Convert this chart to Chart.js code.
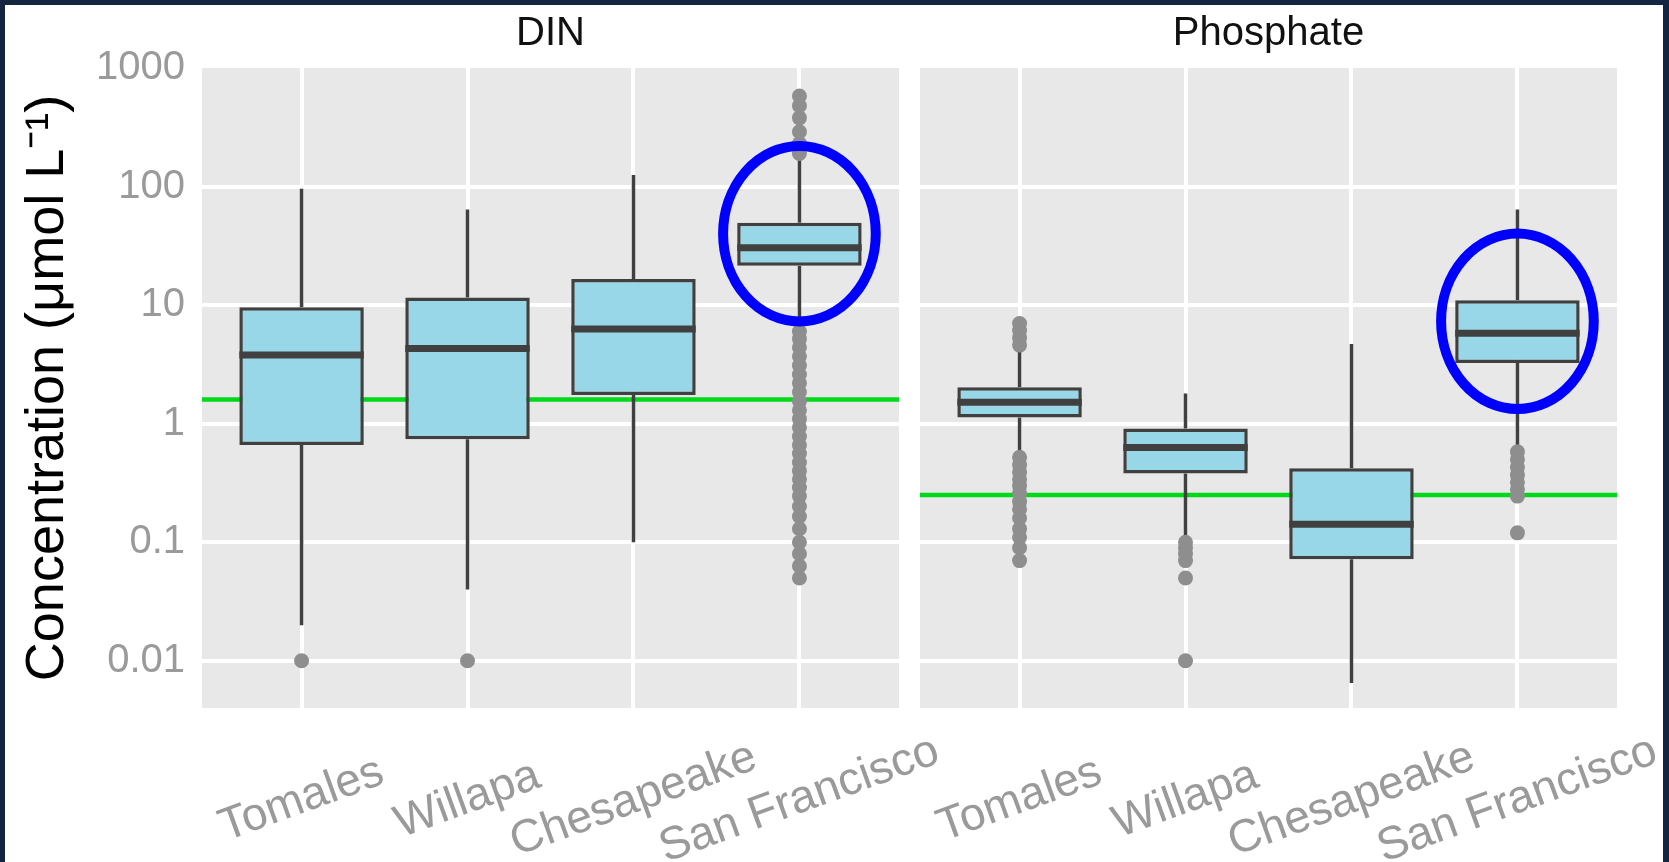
<!DOCTYPE html>
<html lang="en">

<head>
    <meta charset="UTF-8">
    <title>DIN and Phosphate</title>
    <script src="https://cdn.jsdelivr.net/npm/chart.js"></script>
    <style>
        html, body {
            margin: 0;
            padding: 0;
            background: #ffffff;
            width: 1669px;
            height: 862px;
            overflow: hidden;
        }

        .painel {
            position: absolute;
            top: 0;
            height: 862px;
        }

        .moldura {
            position: absolute;
            left: 0;
            top: 0;
            width: 1669px;
            height: 862px;
            box-sizing: border-box;
            border-top: 5px solid #132540;
            border-left: 5px solid #132540;
            border-right: 6px solid #132540;
            pointer-events: none;
        }
    </style>
</head>

<body>
    <div class="painel" style="left: 0px; width: 1000px;">
        <canvas id="chartDIN"></canvas>
    </div>
    <div class="painel" style="left: 905px; width: 764px;">
        <canvas id="chartPhosphate"></canvas>
    </div>
    <div class="moldura"></div>
</body>

</html>

<script>
    // categories (same for both facets)
    const sites = ['Tomales', 'Willapa', 'Chesapeake', 'San Francisco'];
    const yTicks = [0.01, 0.1, 1, 10, 100, 1000];

    // DIN boxplot stats
    const dinLow = [0.02, 0.04, 0.1, 6.1];
    const dinQ1 = [0.66, 0.74, 1.75, 21.5];
    const dinMedian = [3.8, 4.3, 6.3, 30.5];
    const dinQ3 = [9.6, 11.6, 16.6, 49.5];
    const dinHigh = [96, 64, 125, 179];
    const dinOutliers = [
        [0.01],
        [0.01],
        [],
        [190, 230, 290, 380, 480, 580,
            6, 5.2, 4.4, 3.7, 3.1, 2.6, 2.2, 1.85, 1.55, 1.3, 1.1, 0.93, 0.78, 0.66, 0.56,
            0.47, 0.4, 0.34, 0.29, 0.245, 0.2, 0.165, 0.13, 0.1, 0.08, 0.063, 0.05]
    ];
    const dinThreshold = 1.6;
    const dinHighlight = [3, 40];

    // Phosphate boxplot stats
    const phosLow = [0.56, 0.11, 0.0065, 0.65];
    const phosQ1 = [1.13, 0.38, 0.072, 3.25];
    const phosMedian = [1.52, 0.63, 0.142, 5.8];
    const phosQ3 = [2.03, 0.91, 0.42, 11];
    const phosHigh = [4.3, 1.8, 4.7, 64];
    const phosOutliers = [
        [4.6, 5.3, 6.1, 7.0,
            0.52, 0.45, 0.39, 0.34, 0.3, 0.26, 0.22, 0.19, 0.16, 0.13, 0.11, 0.09, 0.07],
        [0.1, 0.09, 0.08, 0.07, 0.05, 0.01],
        [],
        [0.58, 0.5, 0.43, 0.37, 0.32, 0.28, 0.245, 0.12]
    ];
    const phosThreshold = 0.25;
    const phosHighlight = [3, 7.3];

    const corCaixa = '#98d7e8';
    const corLinha = '#404040';
    const corPonto = '#8e8e8e';
    const corVerde = '#00d81c';
    const corTexto = '#9a9a9a';
    const fonte = '"Liberation Sans", Arial, sans-serif';

    // panel background, facet strip, rotated site labels and the blue ring
    const decoracao = {
        id: 'decoracao',
        beforeDraw(chart) {
            const { ctx, chartArea } = chart;
            ctx.save();
            ctx.fillStyle = '#e8e8e8';
            ctx.fillRect(chartArea.left, chartArea.top, chartArea.right - chartArea.left, chartArea.bottom - chartArea.top);
            ctx.restore();
        },
        afterDatasetsDraw(chart, args, opts) {
            const { ctx } = chart;
            const x = chart.scales.x;
            const y = chart.scales.y;
            const cx = x.getPixelForValue(opts.highlight[0]);
            const cy = y.getPixelForValue(opts.highlight[1]);
            const rx = x.getPixelForValue(opts.highlight[0] + 0.46) - cx;
            const ry = cy - y.getPixelForValue(opts.highlight[1] * Math.pow(10, 0.74));
            ctx.save();
            ctx.strokeStyle = '#0000ff';
            ctx.lineWidth = 10;
            ctx.beginPath();
            ctx.ellipse(cx, cy, rx, ry, 0, 0, Math.PI * 2);
            ctx.stroke();
            ctx.restore();
        },
        afterDraw(chart, args, opts) {
            const { ctx, chartArea } = chart;
            const x = chart.scales.x;
            ctx.save();
            // facet title
            ctx.fillStyle = '#111111';
            ctx.font = '40px ' + fonte;
            ctx.textAlign = 'center';
            ctx.textBaseline = 'middle';
            ctx.fillText(opts.titulo, (chartArea.left + chartArea.right) / 2, 34);

            // site names, tilted
            ctx.fillStyle = corTexto;
            ctx.font = '46px ' + fonte;
            sites.forEach(function (nome, i) {
                ctx.save();
                ctx.translate(x.getPixelForValue(i), chartArea.bottom + 92);
                ctx.rotate(-20 * Math.PI / 180);
                ctx.fillText(nome, 0, 0);
                ctx.restore();
            });
            ctx.restore();
        }
    };

    function criarGrafico(idCanvas, titulo, low, q1, median, q3, high, outliers, limiar, destaque, eixoY) {
        // whiskers: two segments per site, split with nulls
        let bigodes = [];
        let medianas = [];
        let caixas = [];
        let pontos = [];
        for (let i = 0; i < sites.length; i++) {
            bigodes.push({ x: i, y: low[i] }, { x: i, y: q1[i] }, { x: i, y: null });
            bigodes.push({ x: i, y: q3[i] }, { x: i, y: high[i] }, { x: i, y: null });
            medianas.push({ x: i - 0.375, y: median[i] }, { x: i + 0.375, y: median[i] }, { x: i, y: null });
            caixas.push({ x: i, y: [q1[i], q3[i]] });
            outliers[i].forEach(function (v) {
                pontos.push({ x: i, y: v });
            });
        }

        const dados = {
            datasets: [
                {
                    type: 'line',
                    data: [{ x: -0.6, y: limiar }, { x: 3.6, y: limiar }],
                    borderColor: corVerde,
                    borderWidth: 4.5,
                    pointRadius: 0,
                    order: 5
                },
                {
                    type: 'line',
                    data: bigodes,
                    borderColor: corLinha,
                    borderWidth: 3.5,
                    pointRadius: 0,
                    spanGaps: false,
                    order: 4
                },
                {
                    type: 'bar',
                    data: caixas,
                    backgroundColor: corCaixa,
                    borderColor: corLinha,
                    borderWidth: 3.5,
                    borderSkipped: false,
                    barPercentage: 0.75,
                    categoryPercentage: 1,
                    order: 3
                },
                {
                    type: 'line',
                    data: medianas,
                    borderColor: corLinha,
                    borderWidth: 7,
                    borderCapStyle: 'butt',
                    pointRadius: 0,
                    spanGaps: false,
                    order: 2
                },
                {
                    type: 'scatter',
                    data: pontos,
                    backgroundColor: corPonto,
                    borderWidth: 0,
                    pointRadius: 7.5,
                    order: 1
                }
            ]
        };

        const config = {
            type: 'bar',
            data: dados,
            plugins: [decoracao],
            options: {
                responsive: true,
                maintainAspectRatio: false,
                animation: false,
                layout: {
                    padding: { top: 68, left: 0, right: eixoY ? 101 : 52, bottom: 0 }
                },
                plugins: {
                    legend: { display: false },
                    tooltip: { enabled: false },
                    decoracao: { titulo: titulo, highlight: destaque }
                },
                scales: {
                    x: {
                        type: 'linear',
                        min: -0.6,
                        max: 3.6,
                        offset: false,
                        afterBuildTicks: function (scale) {
                            scale.ticks = sites.map(function (s, i) { return { value: i }; });
                        },
                        afterFit: function (scale) {
                            scale.height = 154;
                        },
                        ticks: { display: false },
                        grid: { color: '#ffffff', lineWidth: 4, drawTicks: false, offset: false },
                        border: { display: false }
                    },
                    y: {
                        type: 'logarithmic',
                        min: 0.004,
                        max: 1000,
                        afterBuildTicks: function (scale) {
                            scale.ticks = yTicks.map(function (v) { return { value: v }; });
                        },
                        afterFit: function (scale) {
                            scale.width = eixoY ? 202 : 15;
                        },
                        ticks: {
                            display: eixoY,
                            color: corTexto,
                            padding: 17,
                            font: { family: fonte, size: 40 },
                            callback: function (v) { return String(v); }
                        },
                        title: {
                            display: eixoY,
                            text: 'Concentration (\u03bcmol L\u207b\u00b9)',
                            color: '#000000',
                            font: { family: fonte, size: 54 },
                            padding: { top: 16, bottom: 0 }
                        },
                        grid: {
                            color: function (ctx) {
                                return ctx.tick && ctx.tick.value >= 1000 ? 'rgba(0,0,0,0)' : '#ffffff';
                            },
                            lineWidth: 4,
                            drawTicks: false
                        },
                        border: { display: false }
                    }
                }
            }
        };

        return new Chart(document.getElementById(idCanvas), config);
    }

    criarGrafico('chartDIN', 'DIN', dinLow, dinQ1, dinMedian, dinQ3, dinHigh, dinOutliers, dinThreshold, dinHighlight, true);
    criarGrafico('chartPhosphate', 'Phosphate', phosLow, phosQ1, phosMedian, phosQ3, phosHigh, phosOutliers, phosThreshold, phosHighlight, false);
</script>
